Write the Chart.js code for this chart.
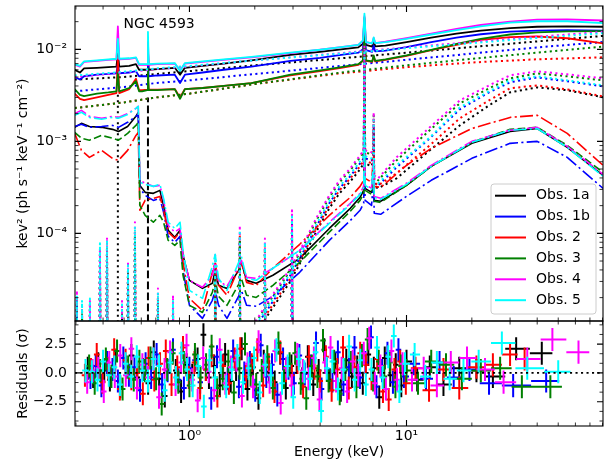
<!DOCTYPE html>
<html>
<head>
<meta charset="utf-8">
<script src="https://cdn.jsdelivr.net/npm/chart.js@4.4.1/dist/chart.umd.min.js"></script>
<style>
  body { margin: 0; background: #ffffff; }
  #wrap { position: relative; width: 611px; height: 464px; }
  #wrap canvas { position: absolute; left: 0; top: 0; }
</style>
</head>
<body>
<div id="wrap">
  <canvas id="spec" width="611" height="464"></canvas>
  <canvas id="resid" width="611" height="464"></canvas>
</div>
<script>
// ---- axes ----
const eRange = [0.297, 80.4];          // keV
const fluxRange = [1.114e-5, 2.96e-2];
const residRange = [-4.6, 4.5];
const energyTicks = [1, 10];
const fluxTicks = [1e-4, 1e-3, 1e-2];
const residTicks = [-2.5, 0, 2.5];
const residMinor = [-4.1667, -3.3333, -1.6667, -0.8333, 0.8333, 1.6667, 3.3333, 4.1667];

const obsNames = ['Obs. 1a', 'Obs. 1b', 'Obs. 2', 'Obs. 3', 'Obs. 4', 'Obs. 5'];

// ---- total model (solid) ----
const totE = [0.296, 0.313, 0.327, 0.375, 0.423, 0.461, 0.468, 0.475, 0.528, 0.567,
  0.586, 0.605, 0.639, 0.644, 0.649, 0.711, 0.856, 0.905, 0.953, 1.15,
  1.44, 1.93, 2.92, 4.0, 5.0, 6.0, 6.3, 6.4, 6.5, 6.95,
  7.06, 7.17, 8, 10, 13, 17, 22, 30, 40, 55, 80.5];
const tot1a = [6.0e-3, 5.6e-3, 6.2e-3, 6.3e-3, 6.4e-3, 6.5e-3, 9.0e-3, 6.5e-3, 6.6e-3, 6.9e-3,
  6.0e-3, 6.0e-3, 6.0e-3, 1.0e-2, 6.0e-3, 6.1e-3, 6.3e-3, 5.3e-3, 6.3e-3, 6.6e-3,
  7.0e-3, 7.6e-3, 8.7e-3, 9.4e-3, 1.0e-2, 1.05e-2, 1.15e-2, 2.2e-2, 1.12e-2, 1.07e-2,
  1.25e-2, 1.08e-2, 1.1e-2, 1.2e-2, 1.34e-2, 1.48e-2, 1.6e-2, 1.7e-2, 1.76e-2, 1.78e-2, 1.76e-2];
const tot1b = [5.0e-3, 4.7e-3, 5.1e-3, 5.3e-3, 5.4e-3, 5.5e-3, 7.0e-3, 5.5e-3, 5.6e-3, 5.8e-3,
  5.1e-3, 5.1e-3, 5.1e-3, 8.0e-3, 5.1e-3, 5.2e-3, 5.3e-3, 4.3e-3, 5.3e-3, 5.6e-3,
  6.0e-3, 6.5e-3, 7.5e-3, 8.1e-3, 8.7e-3, 9.2e-3, 1.0e-2, 1.9e-2, 9.8e-3, 9.4e-3,
  1.1e-2, 9.5e-3, 9.7e-3, 1.06e-2, 1.2e-2, 1.34e-2, 1.46e-2, 1.56e-2, 1.6e-2, 1.62e-2, 1.6e-2];
const tot2 = [3.3e-3, 2.9e-3, 2.8e-3, 3.0e-3, 3.2e-3, 3.35e-3, 8.2e-3, 3.35e-3, 3.7e-3, 4.8e-3,
  3.6e-3, 3.6e-3, 3.65e-3, 5.0e-3, 3.65e-3, 3.65e-3, 3.7e-3, 3.0e-3, 3.7e-3, 3.8e-3,
  4.0e-3, 4.3e-3, 5.2e-3, 5.8e-3, 6.3e-3, 6.8e-3, 7.5e-3, 1.4e-2, 7.5e-3, 7.3e-3,
  8.4e-3, 7.4e-3, 7.7e-3, 8.5e-3, 9.8e-3, 1.12e-2, 1.27e-2, 1.36e-2, 1.38e-2, 1.32e-2, 1.16e-2];
const tot3 = [3.7e-3, 3.2e-3, 3.1e-3, 3.3e-3, 3.4e-3, 3.5e-3, 5.5e-3, 3.5e-3, 3.8e-3, 4.5e-3,
  3.5e-3, 3.5e-3, 3.6e-3, 6.2e-3, 3.6e-3, 3.6e-3, 3.7e-3, 2.9e-3, 3.7e-3, 3.8e-3,
  4.0e-3, 4.3e-3, 5.3e-3, 5.9e-3, 6.4e-3, 6.9e-3, 7.6e-3, 1.4e-2, 7.6e-3, 7.4e-3,
  8.6e-3, 7.5e-3, 7.8e-3, 8.6e-3, 9.9e-3, 1.15e-2, 1.3e-2, 1.45e-2, 1.53e-2, 1.57e-2, 1.58e-2];
const tot4 = [6.8e-3, 6.5e-3, 7.3e-3, 7.5e-3, 7.7e-3, 7.8e-3, 1.78e-2, 7.8e-3, 7.9e-3, 8.1e-3,
  6.8e-3, 6.8e-3, 6.8e-3, 1.2e-2, 6.8e-3, 6.9e-3, 7.0e-3, 5.9e-3, 7.0e-3, 7.3e-3,
  7.7e-3, 8.2e-3, 9.1e-3, 9.9e-3, 1.06e-2, 1.12e-2, 1.24e-2, 2.3e-2, 1.2e-2, 1.16e-2,
  1.33e-2, 1.17e-2, 1.21e-2, 1.32e-2, 1.48e-2, 1.67e-2, 1.84e-2, 2.0e-2, 2.1e-2, 2.12e-2, 2.06e-2];
const tot5 = [6.9e-3, 6.6e-3, 7.4e-3, 7.6e-3, 7.8e-3, 7.9e-3, 1.3e-2, 7.9e-3, 8.0e-3, 8.2e-3,
  6.9e-3, 6.9e-3, 6.9e-3, 1.55e-2, 6.9e-3, 7.0e-3, 7.1e-3, 5.8e-3, 7.1e-3, 7.4e-3,
  7.8e-3, 8.3e-3, 9.2e-3, 9.9e-3, 1.06e-2, 1.12e-2, 1.25e-2, 2.45e-2, 1.2e-2, 1.16e-2,
  1.35e-2, 1.17e-2, 1.2e-2, 1.3e-2, 1.45e-2, 1.62e-2, 1.78e-2, 1.95e-2, 2.02e-2, 2.02e-2, 1.93e-2];

// ---- primary power law (dotted) ----
const plE = [0.296, 0.5, 0.7, 1, 2, 5, 10, 20, 40, 80.5];
const pl1a = [4.7e-3, 5.0e-3, 5.4e-3, 5.8e-3, 6.7e-3, 8.0e-3, 9.2e-3, 1.06e-2, 1.22e-2, 1.4e-2];
const pl1b = [3.5e-3, 3.9e-3, 4.3e-3, 4.6e-3, 5.4e-3, 6.6e-3, 7.7e-3, 9.0e-3, 1.05e-2, 1.2e-2];
const pl2 = [2.3e-3, 2.65e-3, 3.0e-3, 3.3e-3, 4.2e-3, 5.5e-3, 6.4e-3, 7.2e-3, 7.8e-3, 8.2e-3];
const pl3 = [2.3e-3, 2.65e-3, 3.0e-3, 3.3e-3, 4.2e-3, 5.6e-3, 6.7e-3, 7.9e-3, 9.2e-3, 1.07e-2];
const pl4 = [5.0e-3, 5.6e-3, 6.1e-3, 6.5e-3, 7.6e-3, 9.1e-3, 1.05e-2, 1.2e-2, 1.37e-2, 1.55e-2];
const pl5 = [5.2e-3, 5.7e-3, 6.2e-3, 6.6e-3, 7.6e-3, 9.0e-3, 1.03e-2, 1.17e-2, 1.33e-2, 1.5e-2];

// ---- reflection hump (dotted) ----
const reflE = [1.833, 2.325, 2.918, 3.415, 3.912, 4.41, 4.911, 5.51, 6.11, 6.35,
  6.4, 6.45, 6.9, 7.03, 7.06, 7.1, 7.4, 9, 12.8, 17.6, 24, 30, 40, 55, 80.5];
const refl1a = [5.7e-6, 1.35e-5, 3.01e-5, 6.06e-5, 1.13e-4, 1.87e-4, 2.72e-4, 3.67e-4, 4.96e-4, 5.77e-4,
  7.22e-3, 5.77e-4, 5.35e-4, 6.06e-4, 1.32e-3, 3.24e-4, 3.08e-4, 3.96e-4, 7.98e-4, 1.49e-3,
  2.46e-3, 3.41e-3, 3.86e-3, 3.59e-3, 3.01e-3];
const refl1b = [6.9e-6, 1.57e-5, 3.5e-5, 6.87e-5, 1.28e-4, 2.12e-4, 3.08e-4, 4.17e-4, 5.77e-4, 6.53e-4,
  8.61e-3, 6.53e-4, 6.21e-4, 6.87e-4, 1.49e-3, 3.5e-4, 3.32e-4, 5.22e-4, 1.08e-3, 2.23e-3,
  3.41e-3, 4.38e-3, 4.96e-3, 4.49e-3, 3.96e-3];
const refl2 = [6.1e-6, 1.45e-5, 3.24e-5, 6.53e-5, 1.22e-4, 2.01e-4, 2.93e-4, 3.96e-4, 5.35e-4, 6.21e-4,
  7.6e-3, 6.21e-4, 5.77e-4, 6.53e-4, 1.38e-3, 3.59e-4, 3.32e-4, 4.49e-4, 9.05e-4, 1.78e-3,
  2.79e-3, 3.77e-3, 4.06e-3, 3.67e-3, 3.08e-3];
const refl3 = [7.6e-6, 1.78e-5, 3.96e-5, 7.98e-5, 1.49e-4, 2.46e-4, 3.59e-4, 4.84e-4, 6.7e-4, 7.6e-4,
  1.03e-2, 7.6e-4, 7.22e-4, 7.98e-4, 1.92e-3, 4.06e-4, 3.77e-4, 6.21e-4, 1.32e-3, 2.59e-3,
  3.77e-3, 4.84e-3, 5.48e-3, 5.09e-3, 4.6e-3];
const refl4 = [7.8e-6, 1.87e-5, 4.17e-5, 8.39e-5, 1.59e-4, 2.59e-4, 3.77e-4, 5.09e-4, 7.05e-4, 7.98e-4,
  1.1e-2, 7.98e-4, 7.6e-4, 8.39e-4, 2.07e-3, 4.27e-4, 3.96e-4, 6.7e-4, 1.42e-3, 2.79e-3,
  4.06e-3, 5.22e-3, 5.77e-3, 5.35e-3, 4.84e-3];
const refl5 = [7.3e-6, 1.65e-5, 3.67e-5, 7.22e-5, 1.35e-4, 2.23e-4, 3.24e-4, 4.38e-4, 6.06e-4, 6.87e-4,
  9.8e-3, 6.87e-4, 6.53e-4, 7.22e-4, 1.69e-3, 3.67e-4, 3.5e-4, 5.48e-4, 1.1e-3, 2.34e-3,
  3.5e-3, 4.6e-3, 5.09e-3, 4.6e-3, 4.06e-3];

// ---- soft / second reflector (dash-dot) ----
const softE = [0.296, 0.318, 0.346, 0.394, 0.442, 0.471, 0.519, 0.567, 0.581, 0.591,
  0.625, 0.682, 0.731, 0.760, 0.798, 0.856, 0.905, 0.934, 1.0, 1.148,
  1.275, 1.314, 1.362, 1.489, 1.686, 1.735, 1.833, 2.03, 2.424, 3.22,
  4.41, 5.51, 6.11, 6.35, 6.4, 6.45, 6.9, 7.05, 7.1, 7.6,
  10, 13, 20, 30, 40, 55, 80.5];
const soft1a = [1.42e-3, 1.57e-3, 1.45e-3, 1.42e-3, 1.35e-3, 1.28e-3, 1.45e-3, 1.87e-3, 2.07e-3, 3.32e-4,
  2.79e-4, 2.72e-4, 2.93e-4, 2.01e-4, 1.08e-4, 9.05e-5, 1.08e-4, 5.77e-5, 3.08e-5, 2.52e-5,
  2.86e-5, 3.96e-5, 2.72e-5, 2.52e-5, 3.96e-5, 4.84e-5, 3.08e-5, 2.86e-5, 3.5e-5, 5.35e-5,
  1.13e-4, 1.87e-4, 2.46e-4, 2.93e-4, 1.03e-3, 3.08e-4, 2.79e-4, 5.48e-4, 2.28e-4, 2.23e-4,
  3.32e-4, 5.35e-4, 9.51e-4, 1.28e-3, 1.38e-3, 8.61e-4, 4.27e-4];
const soft1b = [1.45e-3, 1.53e-3, 1.42e-3, 1.45e-3, 1.49e-3, 1.42e-3, 1.61e-3, 1.87e-3, 1.96e-3, 3.08e-4,
  2.59e-4, 2.28e-4, 2.4e-4, 1.69e-4, 9.28e-5, 7.98e-5, 9.28e-5, 3.96e-5, 1.65e-5, 1.19e-5,
  1.87e-5, 2.4e-5, 1.65e-5, 1.19e-5, 2.07e-5, 2.4e-5, 1.65e-5, 1.61e-5, 2.07e-5, 3.77e-5,
  8.39e-5, 1.38e-4, 1.78e-4, 2.12e-4, 7.05e-4, 2.28e-4, 2.01e-4, 3.77e-4, 1.65e-4, 1.61e-4,
  2.52e-4, 3.77e-4, 6.53e-4, 9.51e-4, 1.0e-3, 6.7e-4, 3.08e-4];
const soft2 = [1.22e-3, 7.98e-4, 6.7e-4, 7.98e-4, 6.53e-4, 6.21e-4, 7.98e-4, 1.16e-3, 1.25e-3, 1.78e-4,
  2.28e-4, 2.4e-4, 2.52e-4, 1.78e-4, 1.03e-4, 8.82e-5, 1.03e-4, 4.84e-5, 1.96e-5, 1.45e-5,
  3.77e-5, 4.84e-5, 2.72e-5, 2.12e-5, 4.17e-5, 4.84e-5, 2.93e-5, 2.72e-5, 4.17e-5, 7.6e-5,
  1.57e-4, 2.46e-4, 3.24e-4, 3.77e-4, 1.38e-3, 3.96e-4, 3.59e-4, 7.05e-4, 3.24e-4, 3.16e-4,
  5.48e-4, 8.39e-4, 1.38e-3, 1.82e-3, 1.92e-3, 1.22e-3, 5.48e-4];
const soft3 = [1.25e-3, 1.08e-3, 1.03e-3, 1.16e-3, 1.08e-3, 1.03e-3, 1.22e-3, 1.49e-3, 1.61e-3, 2.01e-4,
  1.57e-4, 1.32e-4, 1.57e-4, 1.32e-4, 8.39e-5, 7.41e-5, 8.39e-5, 3.5e-5, 1.65e-5, 1.38e-5,
  2.28e-5, 3.08e-5, 2.07e-5, 1.65e-5, 2.79e-5, 3.24e-5, 2.12e-5, 2.01e-5, 2.72e-5, 4.84e-5,
  1.03e-4, 1.74e-4, 2.28e-4, 2.72e-4, 9.75e-4, 2.93e-4, 2.65e-4, 5.09e-4, 2.23e-4, 2.17e-4,
  3.32e-4, 5.35e-4, 9.75e-4, 1.35e-3, 1.42e-3, 9.05e-4, 4.6e-4];
const soft4 = [2.01e-3, 2.17e-3, 1.87e-3, 1.78e-3, 1.87e-3, 1.82e-3, 2.01e-3, 2.28e-3, 2.4e-3, 3.77e-4,
  3.5e-4, 3.24e-4, 3.32e-4, 2.28e-4, 1.22e-4, 1.03e-4, 1.13e-4, 5.77e-5, 3.08e-5, 2.59e-5,
  3.5e-5, 4.84e-5, 3.08e-5, 2.65e-5, 4.38e-5, 5.09e-5, 3.32e-5, 3.24e-5, 4.17e-5, 6.53e-5,
  1.32e-4, 2.12e-4, 2.72e-4, 3.24e-4, 1.16e-3, 3.41e-4, 3.08e-4, 6.21e-4, 2.52e-4, 2.4e-4,
  3.5e-4, 5.48e-4, 1.0e-3, 1.32e-3, 1.42e-3, 8.82e-4, 4.38e-4];
const soft5 = [1.92e-3, 2.07e-3, 1.82e-3, 1.74e-3, 1.82e-3, 1.78e-3, 1.96e-3, 2.28e-3, 2.4e-3, 3.59e-4,
  3.41e-4, 3.24e-4, 3.41e-4, 2.4e-4, 1.32e-4, 1.13e-4, 1.32e-4, 6.53e-5, 2.4e-5, 1.96e-5,
  4.38e-5, 5.91e-5, 3.24e-5, 2.4e-5, 4.84e-5, 5.62e-5, 3.24e-5, 3.08e-5, 4.17e-5, 6.53e-5,
  1.28e-4, 2.07e-4, 2.65e-4, 3.16e-4, 1.13e-3, 3.32e-4, 3.01e-4, 6.06e-4, 2.46e-4, 2.34e-4,
  3.41e-4, 5.35e-4, 9.75e-4, 1.32e-3, 1.38e-3, 8.61e-4, 4.17e-4];

// ---- soft emission lines of the reflector (dotted spikes) ----
const lineE = [0.303, 0.320, 0.348, 0.387, 0.417, 0.489, 0.521, 0.561, 0.716, 0.840, 1.314, 1.706, 2.227, 2.968];
const line1a = [1.65e-5, 1.29e-5, 1.45e-5, 5.35e-5, 6.5e-5, 1.38e-5, 3.5e-5, 8.8e-5, 1.78e-5, 1.53e-5, 3.96e-5, 7.8e-5, 6.2e-5, 1.22e-4];
const line1b = [1.87e-5, 1.45e-5, 1.65e-5, 6.2e-5, 7.2e-5, 1.53e-5, 3.96e-5, 1.03e-4, 1.96e-5, 1.65e-5, 4.49e-5, 8.8e-5, 6.9e-5, 1.38e-4];
const line2 = [1.96e-5, 1.53e-5, 1.78e-5, 6.5e-5, 7.8e-5, 1.65e-5, 4.17e-5, 1.08e-4, 2.07e-5, 1.78e-5, 4.84e-5, 9.6e-5, 7.4e-5, 1.45e-4];
const line3 = [1.78e-5, 1.38e-5, 1.57e-5, 5.8e-5, 6.9e-5, 1.45e-5, 3.77e-5, 9.6e-5, 1.87e-5, 1.61e-5, 4.17e-5, 8.4e-5, 6.5e-5, 1.32e-4];
const line4 = [2.4e-5, 1.65e-5, 1.87e-5, 6.9e-5, 9.05e-5, 1.87e-5, 4.84e-5, 1.32e-4, 2.52e-5, 2.12e-5, 5.8e-5, 1.22e-4, 8.8e-5, 1.78e-4];
const line5 = [2.12e-5, 1.87e-5, 1.96e-5, 7.8e-5, 8.4e-5, 1.78e-5, 4.49e-5, 1.19e-4, 2.28e-5, 1.87e-5, 5.35e-5, 1.08e-4, 7.98e-5, 1.61e-4];

// ---- narrow gaussians of Obs. 1a (black dotted / dashed) ----
const gaussE = [0.468, 0.644];
const gaussPeak = [3.2e-3, 3.0e-3];

// ---- residuals (sigma), bin centres in keV ----
const resErr = 1;
const resE1a = [0.34, 0.36, 0.38, 0.405, 0.43, 0.455, 0.48, 0.51, 0.54, 0.575,
  0.61, 0.645, 0.685, 0.725, 0.77, 0.815, 0.865, 0.915, 0.97, 1.03,
  1.09, 1.16, 1.23, 1.3, 1.38, 1.46, 1.55, 1.64, 1.74, 1.85,
  1.96, 2.08, 2.2, 2.33, 2.47, 2.62, 2.78, 2.95, 3.12, 3.31,
  3.51, 3.72, 3.94, 4.18, 4.43, 4.7, 4.98, 5.28, 5.6, 5.93,
  6.29, 6.67, 7.07, 7.49, 7.94, 8.42, 8.92, 9.46, 10.0,
  11.2, 12.8, 14.8, 17.5, 21, 25, 32, 42];
const res1a = [0.4, -0.3, 0.8, 0.2, -0.6, 1.1, -1.2, 0.5, 1.5, -0.4,
  0.3, -0.9, 1.8, -0.5, -2.0, 0.9, 0.2, -1.6, 0.7, -0.2,
  1.2, 3.3, -0.4, 0.6, -1.1, 1.6, -0.7, 0.3, 2.1, -1.4,
  0.5, -2.2, 1.0, 0.1, -0.8, 1.7, -1.3, 0.6, 0.9, -0.5,
  1.4, -1.0, 0.2, 2.0, -0.6, 0.8, -1.5, 1.1, -0.3, 0.5,
  -0.9, 1.6, 0.4, -2.1, 1.3, -0.2, 0.7, -1.1, 1.0,
  -0.6, 0.5, -1.0, 0.4, 0.2, -0.3, 2.1, 1.7];
const resE1b = [0.35, 0.37, 0.393, 0.417, 0.442, 0.468, 0.496, 0.526, 0.558, 0.592,
  0.628, 0.666, 0.706, 0.748, 0.793, 0.84, 0.89, 0.943, 1.0, 1.06,
  1.12, 1.19, 1.26, 1.34, 1.42, 1.5, 1.59, 1.69, 1.79, 1.9,
  2.01, 2.13, 2.26, 2.4, 2.54, 2.7, 2.86, 3.03, 3.21, 3.4,
  3.61, 3.83, 4.06, 4.3, 4.56, 4.83, 5.12, 5.43, 5.76, 6.1,
  6.47, 6.86, 7.27, 7.71, 8.17, 8.66, 9.18, 9.73,
  10.8, 12.3, 14.2, 16.5, 19.5, 24, 31, 44];
const res1b = [-0.4, 0.6, -1.1, 0.9, 0.3, -0.7, 1.3, -0.2, 0.5, -1.5,
  0.8, -0.4, 1.6, -1.0, 0.2, 2.0, -0.6, -1.3, 0.4, 1.1,
  -0.8, 0.3, -2.2, 1.4, 0.6, -0.5, 1.9, -1.2, 0.0, 0.9,
  -1.5, 2.4, -0.3, 0.7, -1.9, 1.2, 0.4, -0.9, 1.5, -0.1,
  0.6, 2.6, -1.4, 0.3, -0.7, 1.8, -1.0, 0.5, 2.2, -0.4,
  0.9, 3.1, -1.2, 0.2, 1.7, -0.8, 2.0, -0.3,
  0.8, -0.5, 0.9, -0.4, 0.3, -0.9, -1.1, -0.7];
const resE2 = [0.33, 0.352, 0.374, 0.398, 0.423, 0.45, 0.478, 0.508, 0.54, 0.574,
  0.61, 0.648, 0.689, 0.732, 0.778, 0.827, 0.879, 0.934, 0.993, 1.055,
  1.12, 1.19, 1.265, 1.345, 1.43, 1.52, 1.615, 1.715, 1.82, 1.935,
  2.055, 2.185, 2.32, 2.465, 2.62, 2.785, 2.96, 3.145, 3.34, 3.55,
  3.77, 4.0, 4.25, 4.52, 4.8, 5.1, 5.42, 5.76, 6.12, 6.5,
  6.9, 7.33, 7.79, 8.28, 8.8, 9.35, 9.93,
  11, 12.7, 14.8, 17.5, 21, 25, 30, 35];
const res2 = [-0.2, 0.3, 1.6, -0.8, 0.4, 2.0, -1.4, 1.1, -0.5, 0.0,
  -1.8, 1.3, -0.6, 0.8, 1.9, -1.0, 0.5, 2.2, -0.4, 0.9,
  -1.3, 0.3, 1.5, -2.0, 0.6, -0.9, 1.2, 2.1, -0.3, 0.7,
  2.0, -1.1, 0.7, -1.6, 1.8, 0.2, -0.2, 0.9, -1.2, 1.4,
  0.4, -0.7, 1.4, -1.5, 0.3, 2.2, -1.3, 0.5, 1.7, 0.7,
  -0.5, 1.2, -1.6, -2.3, 0.3, 1.0, -0.9,
  0.4, -1.5, 0.3, -1.3, 0.5, 0.7, 1.6, 1.2];
const resE3 = [0.345, 0.366, 0.388, 0.412, 0.437, 0.464, 0.492, 0.522, 0.554, 0.588,
  0.624, 0.662, 0.702, 0.745, 0.79, 0.838, 0.889, 0.943, 1.0, 1.06,
  1.125, 1.193, 1.265, 1.342, 1.424, 1.51, 1.602, 1.7, 1.803, 1.913,
  2.03, 2.153, 2.284, 2.423, 2.57, 2.727, 2.893, 3.069, 3.256, 3.454,
  3.664, 3.887, 4.124, 4.375, 4.641, 4.924, 5.224, 5.542, 5.879, 6.237,
  6.617, 7.02, 7.447, 7.9, 8.381, 8.891, 9.432, 10.0,
  11.3, 13, 15.2, 18, 22, 27, 34, 46];
const res3 = [0.6, -0.9, 0.2, 1.2, -0.3, 1.9, -1.4, 0.5, -0.6, 1.0,
  0.2, 1.3, -0.5, -2.7, 0.3, 1.7, -0.8, 0.9, -1.1, 1.6,
  -0.4, 0.7, 2.3, -1.3, -0.5, 1.0, -1.7, 0.4, 2.5, -0.2,
  -1.0, 0.2, 1.4, -1.3, 2.6, -0.4, 0.8, 1.7, -0.9, -2.2,
  0.6, -0.3, 2.8, -0.7, 1.0, -1.8, 0.3, 0.9, -1.2, 1.5,
  2.9, -0.6, 1.0, -0.3, 0.9, -1.2, 0.6, 0.2,
  -0.9, 1.0, 0.7, -0.5, 0.2, 0.4, -1.2, -1.2];
const resE4 = [0.338, 0.358, 0.38, 0.403, 0.427, 0.453, 0.48, 0.509, 0.54, 0.573,
  0.607, 0.644, 0.683, 0.724, 0.768, 0.814, 0.863, 0.915, 0.97, 1.029,
  1.091, 1.157, 1.227, 1.301, 1.38, 1.463, 1.552, 1.646, 1.745, 1.851,
  1.963, 2.082, 2.208, 2.341, 2.483, 2.633, 2.792, 2.961, 3.14, 3.33,
  3.532, 3.745, 3.972, 4.212, 4.467, 4.737, 5.024, 5.327, 5.65, 5.991,
  6.354, 6.738, 7.146, 7.578, 8.036, 8.522, 9.038, 9.584,
  10.6, 12, 13.8, 16, 19, 23, 28, 36, 47, 62];
const res4 = [-0.8, 0.2, 0.4, -1.6, 0.9, -0.3, 1.5, -0.2, 2.1, -1.3,
  0.7, -0.4, 1.2, -2.1, 0.3, 1.8, -1.0, 0.9, 2.4, -0.6,
  -2.4, 1.3, 0.1, -1.5, 2.0, -0.9, 0.5, 1.1, -2.0, 0.8,
  -1.2, 2.7, 0.6, -0.8, 1.9, -2.6, 0.4, -1.1, 1.6, 0.2,
  -0.5, 1.3, -2.3, 0.9, 2.2, -0.7, 0.4, -1.6, 1.0, -0.2,
  1.7, 3.0, -0.9, 0.6, -1.4, 1.9, -0.6, 0.8,
  -0.6, 0.4, -1.1, 0.9, 1.3, 0.3, -0.8, 1.2, 2.9, 1.8];
const resE5 = [0.332, 0.355, 0.377, 0.4, 0.425, 0.451, 0.479, 0.508, 0.539, 0.572,
  0.607, 0.644, 0.683, 0.725, 0.769, 0.816, 0.866, 0.919, 0.975, 1.035,
  1.098, 1.165, 1.236, 1.312, 1.392, 1.477, 1.567, 1.663, 1.764, 1.872,
  1.986, 2.107, 2.236, 2.372, 2.517, 2.671, 2.834, 3.007, 3.19, 3.385,
  3.592, 3.811, 4.044, 4.291, 4.553, 4.831, 5.126, 5.439, 5.771, 6.123,
  6.497, 6.894, 7.315, 7.762, 8.236, 8.739, 9.273, 9.839,
  10.9, 12.2, 13.8, 15.8, 18.3, 21.5, 27.5, 36, 50];
const res5 = [0.2, 0.1, -0.6, 1.0, -0.2, 0.5, -1.0, 0.8, -0.3, 1.4,
  0.2, -0.7, 1.2, 0.6, -1.5, 0.9, -0.4, 1.7, 0.3, -1.1,
  0.6, -2.9, 1.1, -0.4, 0.9, -1.2, 0.3, 1.5, -0.8, 0.4,
  1.3, -1.7, 0.7, -0.2, 2.0, -0.9, 0.6, -2.1, 1.2, 0.1,
  -0.5, 1.8, -3.3, 0.4, 1.0, -1.4, 0.3, 2.3, -0.6, 1.1,
  -1.0, 0.3, 2.2, -0.4, 1.4, 3.2, -1.6, 0.8,
  1.6, -0.3, 0.9, -0.5, 0.2, 1.0, 2.6, 0.4, 0.1];

// ---- styles ----
const obsColors = ['#000000', '#0000ff', '#ff0000', '#008000', '#ff00ff', '#00ffff'];
const DOT = [2.1, 3.4];
const DASH = [7.7, 3.3];
const DASHDOT = [13, 3.3, 2.1, 3.3];
const softDash = [[], DASHDOT, DASHDOT, DASH, DASHDOT, DASHDOT];
const FLOOR = 1e-7;        // base of the narrow line components, below the axis
const LINE_HALF = 1.012;   // half width factor of the narrow soft lines

Chart.defaults.font.family = '"DejaVu Sans"';
Chart.defaults.font.size = 14;
Chart.defaults.color = '#000000';

const totals = [tot1a, tot1b, tot2, tot3, tot4, tot5];
const powerLaws = [pl1a, pl1b, pl2, pl3, pl4, pl5];
const refls = [refl1a, refl1b, refl2, refl3, refl4, refl5];
const softs = [soft1a, soft1b, soft2, soft3, soft4, soft5];
const lineSets = [line1a, line1b, line2, line3, line4, line5];
const resE = [resE1a, resE1b, resE2, resE3, resE4, resE5];
const resV = [res1a, res1b, res2, res3, res4, res5];

const pairs = (xs, ys) => xs.map((x, i) => ({x: x, y: ys[i]}));
const spikePts = (xs, ys) => xs.flatMap((x, i) => [{x: x, y: FLOOR}, {x: x, y: ys[i]}, {x: x, y: null}]);
const linePts = (xs, ys) => xs.flatMap((x, i) => [
  {x: x / LINE_HALF, y: FLOOR}, {x: x, y: ys[i]}, {x: x * LINE_HALF, y: FLOOR}, {x: x, y: null}]);

function errBars(es, vs) {
  const pts = [];
  es.forEach((e, i) => {
    const lo = i > 0 ? (e - es[i - 1]) / 2 : (es[1] - e) / 2;
    const hi = i < es.length - 1 ? (es[i + 1] - e) / 2 : lo;
    pts.push({x: e - lo, y: vs[i]}, {x: e + hi, y: vs[i]}, {x: e, y: null});
    pts.push({x: e, y: vs[i] - resErr}, {x: e, y: vs[i] + resErr}, {x: e, y: null});
  });
  return pts;
}

function addLine(list, data, color, width, dash) {
  list.push({
    data: data, borderColor: color, borderWidth: width, borderDash: dash || [],
    borderJoinStyle: 'round', borderCapStyle: 'butt',
    pointRadius: 0, pointHoverRadius: 0, fill: false, tension: 0, spanGaps: false
  });
}

function logMinor(lo, hi) {
  const out = [];
  for (let e = -7; e <= 2; e++) {
    for (let m = 2; m <= 9; m++) {
      const v = m * Math.pow(10, e);
      if (v > lo && v < hi) out.push(v);
    }
  }
  return out;
}

const SUP = {'-': '\u207B', '0': '\u2070', '1': '\u00B9', '2': '\u00B2', '3': '\u00B3', '4': '\u2074', '5': '\u2075'};
const powLabel = v => '10' + String(Math.round(Math.log10(v))).split('').map(c => SUP[c]).join('');

// no automatic label padding: the panels must sit exactly where the layout puts them
const noPad = s => { s.paddingTop = 0; s.paddingBottom = 0; s.paddingLeft = 0; s.paddingRight = 0; };

// inward ticks on all four sides + frame
function tickFrame(xMajor, xMinor, yMajor, yMinor) {
  return {
    id: 'tickFrame',
    afterDatasetsDraw(chart) {
      const ctx = chart.ctx, a = chart.chartArea;
      const sx = chart.scales.x, sy = chart.scales.y;
      ctx.save();
      ctx.strokeStyle = '#000000';
      const xm = (vals, len, lw) => {
        ctx.lineWidth = lw;
        ctx.beginPath();
        vals.forEach(v => {
          const p = sx.getPixelForValue(v);
          if (p < a.left || p > a.right) return;
          ctx.moveTo(p, a.bottom); ctx.lineTo(p, a.bottom - len);
          ctx.moveTo(p, a.top); ctx.lineTo(p, a.top + len);
        });
        ctx.stroke();
      };
      const ym = (vals, len, lw) => {
        ctx.lineWidth = lw;
        ctx.beginPath();
        vals.forEach(v => {
          const p = sy.getPixelForValue(v);
          if (p < a.top || p > a.bottom) return;
          ctx.moveTo(a.left, p); ctx.lineTo(a.left + len, p);
          ctx.moveTo(a.right, p); ctx.lineTo(a.right - len, p);
        });
        ctx.stroke();
      };
      xm(xMajor, 6, 1.1); xm(xMinor, 3.5, 0.8);
      ym(yMajor, 6, 1.1); ym(yMinor, 3.5, 0.8);
      ctx.lineWidth = 1.1;
      ctx.strokeRect(a.left, a.top, a.right - a.left, a.bottom - a.top);
      ctx.restore();
    }
  };
}

// label and legend of the upper panel
const specOverlay = {
  id: 'specOverlay',
  afterDraw(chart) {
    const ctx = chart.ctx, a = chart.chartArea;
    ctx.save();
    ctx.font = '14px "DejaVu Sans"';
    ctx.textBaseline = 'middle';
    ctx.fillStyle = '#000000';
    ctx.fillText('NGC 4593', a.left + 0.092 * (a.right - a.left), a.top + 0.059 * (a.bottom - a.top));
    const w = 105, h = 130;
    const x0 = a.right - 7 - w, y0 = a.bottom - 7 - h;
    ctx.beginPath();
    ctx.roundRect(x0, y0, w, h, 3);
    ctx.fillStyle = 'rgba(255,255,255,0.8)';
    ctx.fill();
    ctx.strokeStyle = '#cccccc';
    ctx.lineWidth = 1;
    ctx.stroke();
    obsNames.forEach((name, i) => {
      const yy = y0 + 11.7 + i * 20.9;
      ctx.strokeStyle = obsColors[i];
      ctx.lineWidth = 2;
      ctx.beginPath();
      ctx.moveTo(x0 + 4, yy);
      ctx.lineTo(x0 + 35, yy);
      ctx.stroke();
      ctx.fillStyle = '#000000';
      ctx.fillText(name, x0 + 45, yy);
    });
    ctx.restore();
  }
};

// ---- upper panel ----
const specSets = [];
addLine(specSets, spikePts([gaussE[0]], [gaussPeak[0]]), '#000000', 2, DOT);
addLine(specSets, spikePts([gaussE[1]], [gaussPeak[1]]), '#000000', 2, DASH);
for (let i = 0; i < obsNames.length; i++) {
  addLine(specSets, linePts(lineE, lineSets[i]), obsColors[i], 2, DOT);
  addLine(specSets, pairs(reflE, refls[i]), obsColors[i], 2, DOT);
  addLine(specSets, pairs(softE, softs[i]), obsColors[i], 1.6, softDash[i]);
  addLine(specSets, pairs(plE, powerLaws[i]), obsColors[i], 2, DOT);
  addLine(specSets, pairs(totE, totals[i]), obsColors[i], 1.8);
}
specSets.forEach((d, i) => { d.order = specSets.length - i; });

new Chart(document.getElementById('spec'), {
  type: 'line',
  data: {datasets: specSets},
  options: {
    responsive: false, animation: false, devicePixelRatio: 1, events: [],
    layout: {padding: {left: 0, right: 8, top: 6, bottom: 143}},
    plugins: {legend: {display: false}, tooltip: {enabled: false}},
    scales: {
      x: {type: 'logarithmic', min: eRange[0], max: eRange[1], bounds: 'data', display: false},
      y: {
        type: 'logarithmic', min: fluxRange[0], max: fluxRange[1], bounds: 'data',
        afterFit: s => { s.width = 75; noPad(s); },
        afterBuildTicks: s => { s.ticks = fluxTicks.map(v => ({value: v})); },
        grid: {display: false, drawTicks: false}, border: {display: false},
        ticks: {padding: 8, autoSkip: false, callback: v => powLabel(v)},
        title: {display: true, text: 'kev\u00B2 (ph s\u207B\u00B9 keV\u207B\u00B9 cm\u207B\u00B2)', padding: {top: 15, bottom: 0}}
      }
    }
  },
  plugins: [tickFrame(energyTicks, logMinor(eRange[0], eRange[1]), fluxTicks, logMinor(fluxRange[0], fluxRange[1])), specOverlay]
});

// ---- residual panel ----
const residSets = [];
for (let i = 0; i < obsNames.length; i++) {
  addLine(residSets, errBars(resE[i], resV[i]), obsColors[i], 2);
}
addLine(residSets, pairs(eRange, [0, 0]), '#000000', 1.6, DOT);
residSets.forEach((d, i) => { d.order = residSets.length - i; });

new Chart(document.getElementById('resid'), {
  type: 'line',
  data: {datasets: residSets},
  options: {
    responsive: false, animation: false, devicePixelRatio: 1, events: [],
    layout: {padding: {left: 0, right: 8, top: 321, bottom: 0}},
    plugins: {legend: {display: false}, tooltip: {enabled: false}},
    scales: {
      x: {
        type: 'logarithmic', min: eRange[0], max: eRange[1], bounds: 'data',
        afterFit: s => { s.height = 38; noPad(s); },
        afterBuildTicks: s => { s.ticks = energyTicks.map(v => ({value: v})); },
        grid: {display: false, drawTicks: false}, border: {display: false},
        ticks: {padding: 2, autoSkip: false, maxRotation: 0, callback: v => powLabel(v)},
        title: {display: true, text: 'Energy (keV)', padding: {top: 0, bottom: 3}}
      },
      y: {
        type: 'linear', min: residRange[0], max: residRange[1],
        afterFit: s => { s.width = 75; noPad(s); },
        afterBuildTicks: s => { s.ticks = residTicks.map(v => ({value: v})); },
        grid: {display: false, drawTicks: false}, border: {display: false},
        ticks: {padding: 8, autoSkip: false, callback: v => (v < 0 ? '\u2212' : '') + Math.abs(v).toFixed(1)},
        title: {display: true, text: 'Residuals (\u03C3)', padding: {top: 15, bottom: 0}}
      }
    }
  },
  plugins: [tickFrame(energyTicks, logMinor(eRange[0], eRange[1]), residTicks, residMinor)]
});
</script>
</body>
</html>
